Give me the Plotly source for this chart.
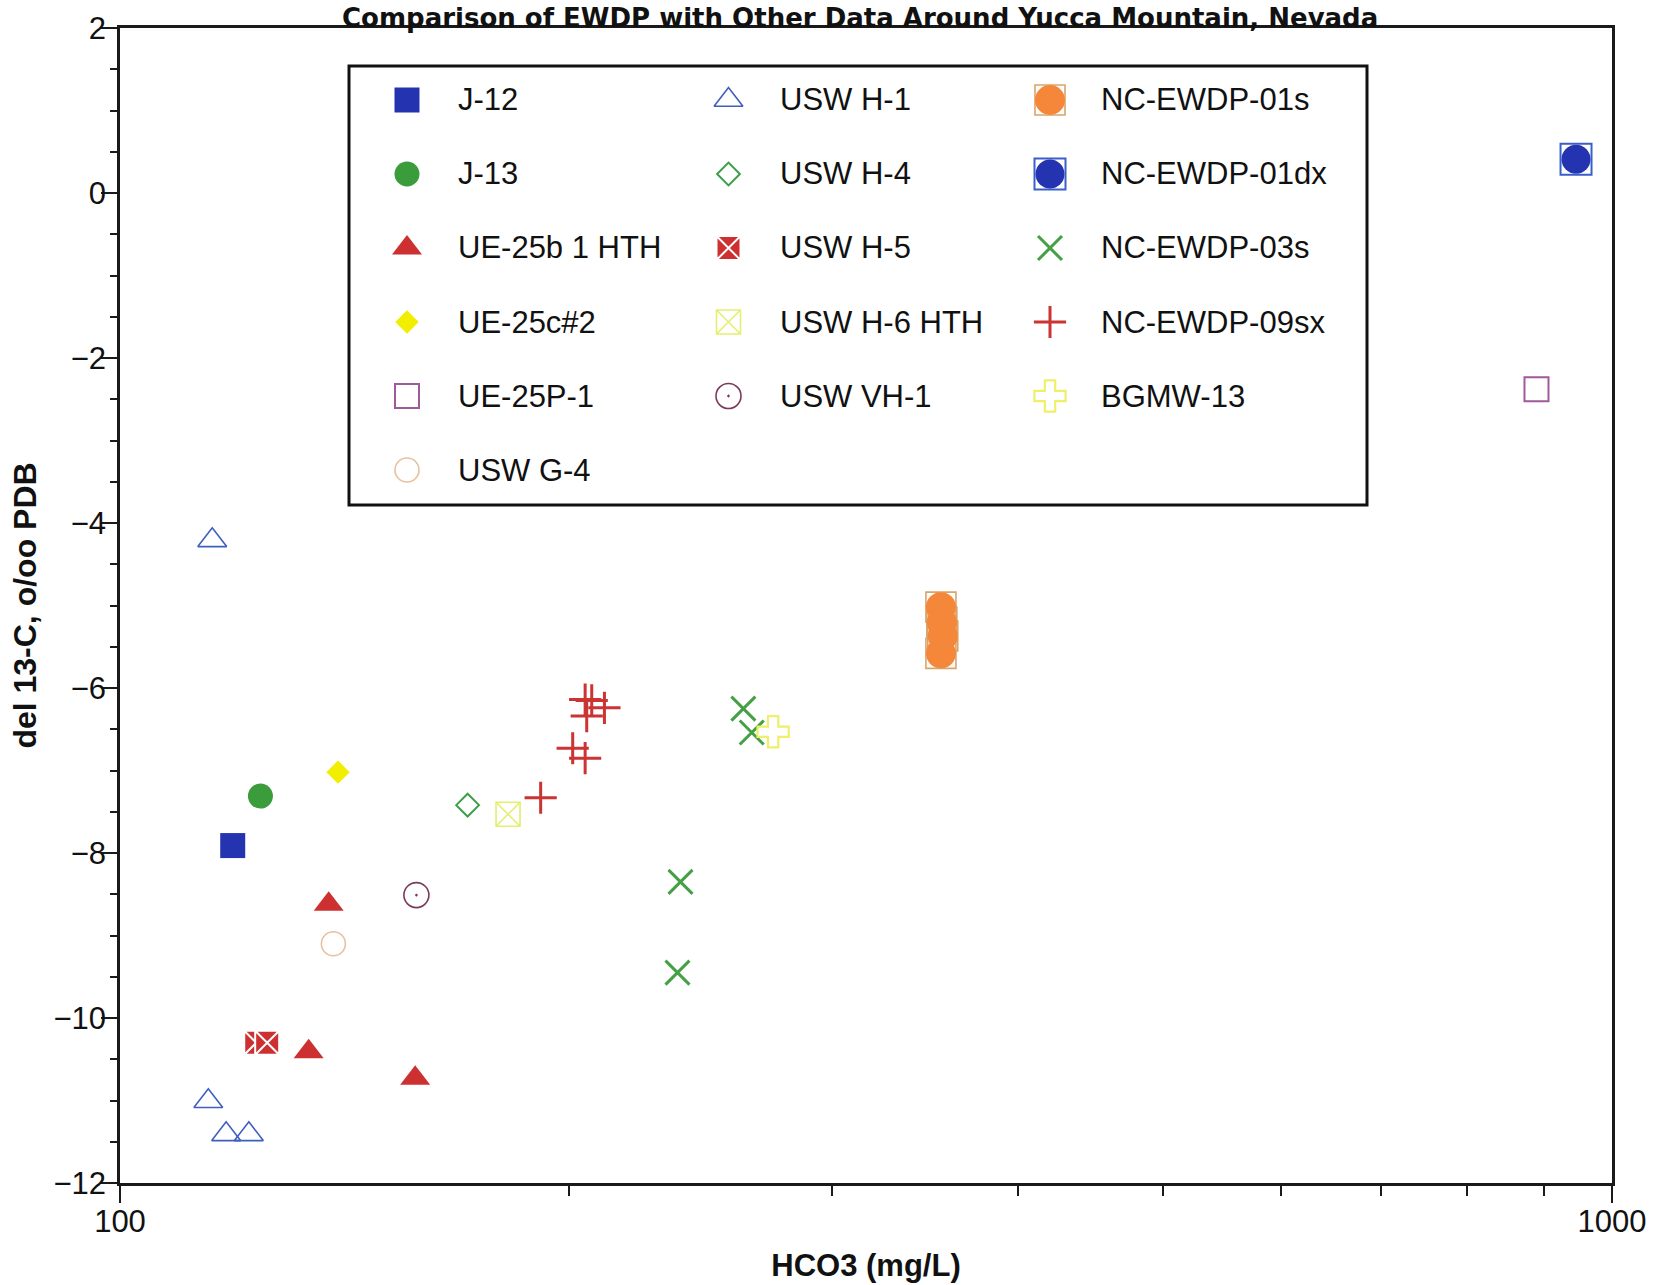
import plotly.graph_objects as go

# ---------------- data ----------------
categories = ["J-12", "J-13", "UE-25b 1 HTH", "UE-25c#2", "UE-25P-1", "USW G-4",
              "USW H-1", "USW H-4", "USW H-5", "USW H-6 HTH", "USW VH-1",
              "NC-EWDP-01s", "NC-EWDP-01dx", "NC-EWDP-03s", "NC-EWDP-09sx", "BGMW-13"]

j12_hco3 = [119.0]
j12_d13c = [-7.91]
j13_hco3 = [124.2]
j13_d13c = [-7.31]
ue25b_hco3 = [138.0, 133.8, 157.7]
ue25b_d13c = [-8.62, -10.41, -10.73]
ue25c_hco3 = [140.0]
ue25c_d13c = [-7.02]
ue25p_hco3 = [890.0]
ue25p_d13c = [-2.38]
g4_hco3 = [139.0]
g4_d13c = [-9.10]
h1_hco3 = [115.3, 114.6, 117.8, 122.0]
h1_d13c = [-4.21, -11.01, -11.41, -11.41]
h4_hco3 = [171.0]
h4_d13c = [-7.42]
h5_hco3 = [123.4, 125.5]
h5_d13c = [-10.30, -10.30]
h6_hco3 = [182.0]
h6_d13c = [-7.53]
vh1_hco3 = [158.0]
vh1_d13c = [-8.51]
ewdp01s_hco3 = [355.0, 355.5, 356.0, 355.0]
ewdp01s_d13c = [-5.02, -5.20, -5.37, -5.58]
ewdp01dx_hco3 = [946.0]
ewdp01dx_d13c = [0.41]
ewdp03s_hco3 = [261.7, 265.1, 237.5, 236.4]
ewdp03s_d13c = [-6.25, -6.54, -8.35, -9.45]
ewdp09sx_hco3 = [205.0, 207.1, 211.2, 205.5, 201.1, 205.0, 191.4]
ewdp09sx_d13c = [-6.14, -6.15, -6.24, -6.34, -6.73, -6.85, -7.33]
bgmw13_hco3 = [274.0]
bgmw13_d13c = [-6.53]

x_tick_vals = [100, 1000]
x_tick_text = ["100", "1000"]
x_minor_vals = [200, 300, 400, 500, 600, 700, 800, 900]
y_tick_vals = [2, 0, -2, -4, -6, -8, -10, -12]
y_tick_text = ["2", "0", "\u22122", "\u22124", "\u22126", "\u22128", "\u221210", "\u221212"]

title_text = "Comparison of EWDP with Other Data Around Yucca Mountain, Nevada"
x_title = "HCO3 (mg/L)"
y_title = "del 13-C, o/oo PDB"

series_xy = {
    "J-12": (j12_hco3, j12_d13c),
    "J-13": (j13_hco3, j13_d13c),
    "UE-25b 1 HTH": (ue25b_hco3, ue25b_d13c),
    "UE-25c#2": (ue25c_hco3, ue25c_d13c),
    "UE-25P-1": (ue25p_hco3, ue25p_d13c),
    "USW G-4": (g4_hco3, g4_d13c),
    "USW H-1": (h1_hco3, h1_d13c),
    "USW H-4": (h4_hco3, h4_d13c),
    "USW H-5": (h5_hco3, h5_d13c),
    "USW H-6 HTH": (h6_hco3, h6_d13c),
    "USW VH-1": (vh1_hco3, vh1_d13c),
    "NC-EWDP-01s": (ewdp01s_hco3, ewdp01s_d13c),
    "NC-EWDP-01dx": (ewdp01dx_hco3, ewdp01dx_d13c),
    "NC-EWDP-03s": (ewdp03s_hco3, ewdp03s_d13c),
    "NC-EWDP-09sx": (ewdp09sx_hco3, ewdp09sx_d13c),
    "BGMW-13": (bgmw13_hco3, bgmw13_d13c),
}

# ---------------- styles ----------------
def filled(sym, size, color, lc=None, lw=0):
    return [dict(symbol=sym, size=size, color=color,
                 line=dict(color=lc or color, width=lw))]

def hollow(sym, size, color, lw):
    return [dict(symbol=sym, size=size, color=color,
                 line=dict(color=color, width=lw))]

styles = {
    "J-12": filled("square", 25, "#2433b0"),
    "J-13": filled("circle", 25, "#3a9c3a"),
    "UE-25b 1 HTH": filled("triangle-up", 26, "#cc3030"),
    "UE-25c#2": filled("diamond", 18, "#f2ee00"),
    "UE-25P-1": hollow("square-open", 24, "#a05a9a", 2),
    "USW G-4": hollow("circle-open", 24, "#e6c29e", 1.6),
    "USW H-1": hollow("triangle-up-open", 25, "#3f5fbf", 1.6),
    "USW H-4": hollow("diamond-open", 17.5, "#3d9e4a", 2),
    "USW H-5": filled("square-x", 24, "#cc3030", "white", 2),
    "USW H-6 HTH": hollow("square-x-open", 24, "#e4ef70", 1.6),
    "USW VH-1": hollow("circle-open-dot", 25, "#7a3a5a", 1.6),
    "NC-EWDP-01s": hollow("square-open", 30, "#d9a46a", 1.6) + filled("circle", 30, "#f5873a"),
    "NC-EWDP-01dx": hollow("square-open", 31, "#3b5fc8", 2) + filled("circle", 29, "#2433b0"),
    "NC-EWDP-03s": hollow("x-thin-open", 24, "#45a045", 3),
    "NC-EWDP-09sx": hollow("cross-thin-open", 23, "#cc3333", 3),
    "BGMW-13": hollow("cross-open", 26, "#eef06a", 2.2),
}

FONT = "Liberation Sans, Arial, Helvetica, sans-serif"

fig = go.Figure()

for name in categories:
    xs, ys = series_xy[name]
    for m in styles[name]:
        fig.add_trace(go.Scatter(x=xs, y=ys, mode="markers", name=name,
                                 marker=m, showlegend=False, cliponaxis=False,
                                 xaxis="x", yaxis="y"))

# ---------------- custom legend (inset axes inside the box) ----------------
W, H = 1662, 1285
ML, MR, MT, MB = 120, 50, 28, 102
PW, PH = W - ML - MR, H - MT - MB
box_l, box_t, box_r, box_b = 349, 66, 1367, 505
bx0, bx1 = (box_l - ML) / PW, (box_r - ML) / PW
by0, by1 = 1 - (box_b - MT) / PH, 1 - (box_t - MT) / PH
box_w, box_h = box_r - box_l, box_b - box_t

col_first, col_pitch, text_gap = 58, 321.5, 49
row_first, row_pitch = 34, 74.0
col_sizes = [6, 5, 5]

idx = 0
for c, n in enumerate(col_sizes):
    for r in range(n):
        name = categories[idx]
        idx += 1
        lx = col_first + c * col_pitch
        ly = row_first + r * row_pitch
        for m in styles[name]:
            fig.add_trace(go.Scatter(x=[lx], y=[ly], mode="markers", marker=m,
                                     showlegend=False, hoverinfo="skip",
                                     cliponaxis=False, xaxis="x2", yaxis="y2"))
        fig.add_annotation(x=lx + text_gap, y=ly, xref="x2", yref="y2",
                           text=name, showarrow=False, xanchor="left",
                           yanchor="middle",
                           font=dict(family=FONT, size=31, color="#111"))

fig.add_shape(type="rect", xref="paper", yref="paper", x0=bx0, x1=bx1, y0=by0, y1=by1,
              line=dict(color="#111", width=3), fillcolor="rgba(0,0,0,0)", layer="above")

# title: box top just inside the page
fig.add_annotation(x=(860 - ML) / PW, y=1 + (MT - 1) / PH, xref="paper", yref="paper",
                   yanchor="top", text="<b>" + title_text + "</b>", showarrow=False,
                   font=dict(family="DejaVu Sans, Liberation Sans, sans-serif", size=26,
                             color="#111"))

axis_common = dict(showline=True, mirror=True, linecolor="#1a1a1a", linewidth=2.5,
                   showgrid=False, zeroline=False, automargin=False,
                   tickfont=dict(family=FONT, size=31, color="#111"),
                   tickcolor="#1a1a1a", tickwidth=2, ticks="outside")

fig.update_layout(
    width=W, height=H, template="none",
    paper_bgcolor="white", plot_bgcolor="white",
    margin=dict(l=ML, r=MR, t=MT, b=MB, pad=0),
    showlegend=False,
    xaxis=dict(type="log", range=[2, 3], tickmode="array", tickvals=x_tick_vals,
               ticktext=x_tick_text, ticklen=17, ticklabelstandoff=-8,
               minor=dict(tickmode="array", tickvals=x_minor_vals, ticks="outside",
                          ticklen=10, tickwidth=1.5, tickcolor="#1a1a1a"),
               title=dict(text="<b>" + x_title + "</b>", standoff=17,
                          font=dict(family=FONT, size=31, color="#111")),
               **axis_common),
    yaxis=dict(range=[-12, 2], tickmode="array", tickvals=y_tick_vals,
               ticktext=y_tick_text, ticklen=16, ticklabelstandoff=-11,
               minor=dict(dtick=0.5, ticks="outside", ticklen=7, tickwidth=1.5,
                          tickcolor="#1a1a1a"),
               title=dict(text="<b>" + y_title + "</b>", standoff=8,
                          font=dict(family=FONT, size=32, color="#111")),
               **axis_common),
    xaxis2=dict(domain=[bx0, bx1], range=[0, box_w], visible=False, anchor="y2",
                fixedrange=True),
    yaxis2=dict(domain=[by0, by1], range=[box_h, 0], visible=False, anchor="x2",
                fixedrange=True),
)

fig.write_html("out.html", config={"displayModeBar": False},
               post_script="document.body.style.margin='0';document.body.style.overflow='hidden';")
